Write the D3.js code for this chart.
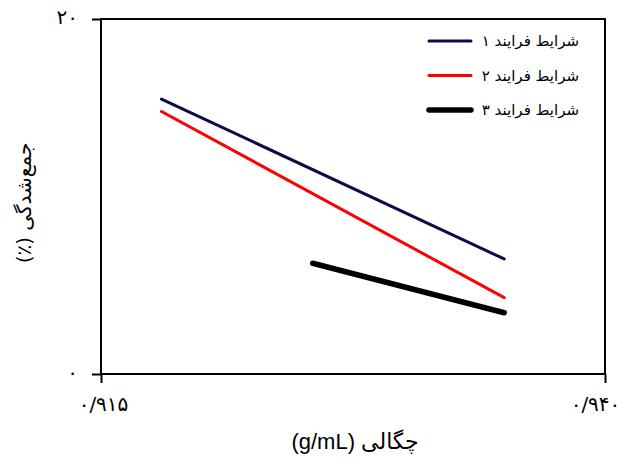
<!DOCTYPE html>
<html lang="fa">
<head>
<meta charset="utf-8">
<script src="https://cdn.jsdelivr.net/npm/d3@7/dist/d3.min.js"></script>
<style>
  html, body { margin: 0; padding: 0; background: #fff; }
  svg { display: block; font-family: "Liberation Sans", "DejaVu Sans", sans-serif; }
</style>
</head>
<body>
<svg id="chart" width="630" height="459"></svg>
<script>
// Density (g/mL) against shrinkage (%) for three process conditions
const seriesNames = ["شرایط فرایند ۱", "شرایط فرایند ۲", "شرایط فرایند ۳"];
const densityP1 = [0.9180, 0.9350];
const shrinkP1  = [15.49, 6.48];
const densityP2 = [0.9180, 0.9350];
const shrinkP2  = [14.79, 4.30];
const densityP3 = [0.9255, 0.9350];
const shrinkP3  = [6.24, 3.45];
const xTicks = [0.915, 0.940];
const xTickLabels = ["۰/۹۱۵", "۰/۹۴۰"];
const yTicks = [0, 20];
const yTickLabels = ["۰", "۲۰"];
const xTitle = "چگالی (g/mL)";
const yTitle = "جمع‌شدگی (٪)";

const colors = ["#0b0b45", "#ff0000", "#000000"];
const widths = [3, 3, 5.5];
const arabicFont = "'DejaVu Sans', sans-serif";

const svg = d3.select("#chart");
const m = { left: 101, top: 19, right: 605, bottom: 374 };

const x = d3.scaleLinear().domain([0.915, 0.940]).range([m.left, m.right]);
const y = d3.scaleLinear().domain([0, 20]).range([m.bottom, m.top]);

// frame
svg.append("rect")
  .attr("x", m.left).attr("y", m.top)
  .attr("width", m.right - m.left).attr("height", m.bottom - m.top)
  .attr("fill", "none").attr("stroke", "#000").attr("stroke-width", 2);

// axes
const xAxis = svg.append("g")
  .attr("transform", `translate(0,${m.bottom})`)
  .call(d3.axisBottom(x).tickValues(xTicks)
    .tickFormat((d, i) => xTickLabels[i]).tickSize(9).tickPadding(14));
const yAxis = svg.append("g")
  .attr("transform", `translate(${m.left},0)`)
  .call(d3.axisLeft(y).tickValues(yTicks)
    .tickFormat((d, i) => yTickLabels[i]).tickSize(9).tickPadding(14));

[xAxis, yAxis].forEach(g => {
  g.select(".domain").remove();
  g.selectAll(".tick line").attr("stroke", "#000").attr("stroke-width", 2);
  g.selectAll(".tick text").attr("fill", "#000")
    .style("font-family", arabicFont).style("font-size", "20px");
});
xAxis.selectAll(".tick text").attr("dx", (d, i) => i === 1 ? -10 : 2);
yAxis.selectAll(".tick text").attr("dy", "0.2em");

// series lines
const series = [
  { xs: densityP1, ys: shrinkP1 },
  { xs: densityP2, ys: shrinkP2 },
  { xs: densityP3, ys: shrinkP3 }
];
const line = d3.line().x(d => x(d[0])).y(d => y(d[1]));
series.forEach((s, i) => {
  svg.append("path")
    .datum(s.xs.map((v, k) => [v, s.ys[k]]))
    .attr("d", line)
    .attr("fill", "none")
    .attr("stroke", colors[i])
    .attr("stroke-width", widths[i])
    .attr("stroke-linecap", "round");
});

// legend
const legend = svg.append("g");
seriesNames.forEach((name, i) => {
  const ly = 41 + i * 34.5;
  legend.append("line")
    .attr("x1", 429).attr("x2", 471).attr("y1", ly).attr("y2", ly)
    .attr("stroke", colors[i]).attr("stroke-width", widths[i])
    .attr("stroke-linecap", "round");
  legend.append("text")
    .attr("x", 579).attr("y", ly + 5)
    .attr("text-anchor", "start")
    .attr("direction", "rtl")
    .style("font-family", arabicFont)
    .style("font-size", "15px")
    .text(name);
});

// axis titles
svg.append("text")
  .attr("x", 355).attr("y", 449)
  .attr("text-anchor", "middle")
  .attr("direction", "rtl")
  .style("font-size", "22px")
  .text(xTitle);

svg.append("text")
  .attr("transform", "translate(31,203) rotate(-90)")
  .attr("text-anchor", "middle")
  .attr("direction", "rtl")
  .style("font-family", arabicFont)
  .style("font-size", "20px")
  .text(yTitle);
</script>
</body>
</html>
